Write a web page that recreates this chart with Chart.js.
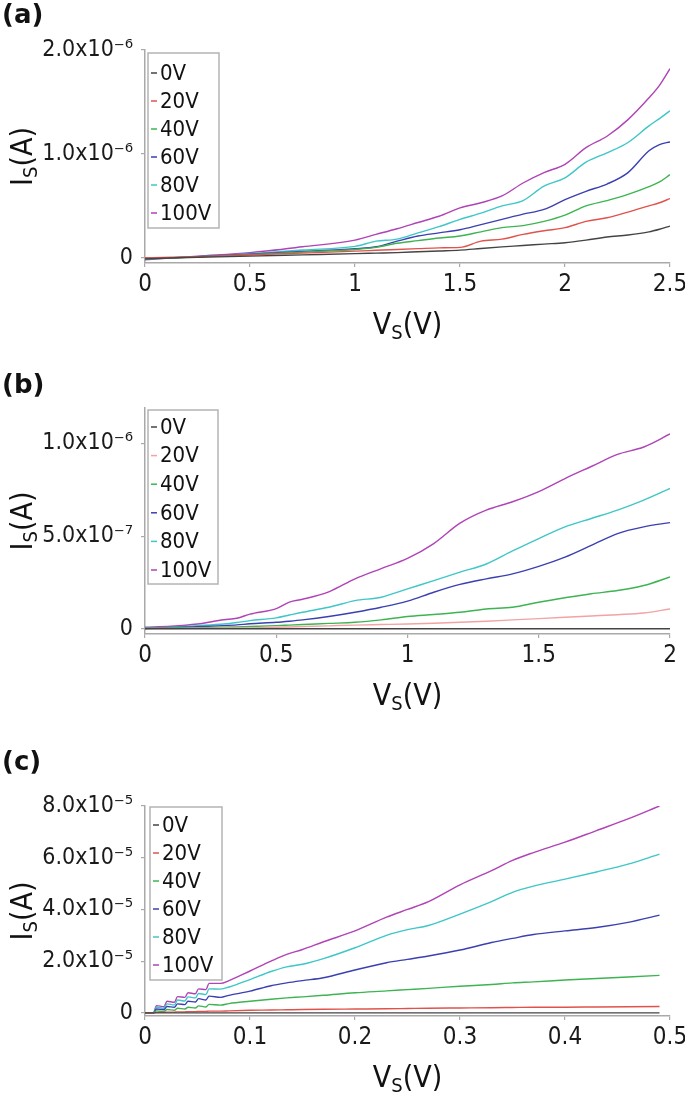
<!DOCTYPE html>
<html>
<head>
<meta charset="utf-8">
<script src="https://cdn.jsdelivr.net/npm/chart.js@4.4.1/dist/chart.umd.min.js"></script>
<style>
  html, body { margin: 0; padding: 0; background: #fff; }
  #wrap { position: relative; width: 685px; height: 1095px; }
  .panel { position: absolute; left: 0; width: 685px; height: 365px; }
</style>
</head>
<body>
<div id="wrap">
  <div class="panel" style="top:0"><canvas id="cA" width="685" height="365"></canvas></div>
  <div class="panel" style="top:365px"><canvas id="cB" width="685" height="365"></canvas></div>
  <div class="panel" style="top:730px"><canvas id="cC" width="685" height="365"></canvas></div>
</div>
<script>
// ── Series names (legend) ─────────────────────────────────────────
const SERIES = ['0V', '20V', '40V', '60V', '80V', '100V'];

// ── Panel (a): Is in units of 1e-6 A ──────────────────────────────
const A_VS   = [0, 0.25, 0.5, 0.75, 1.0, 1.1, 1.2, 1.3, 1.4, 1.5, 1.6, 1.7, 1.8, 1.9, 2.0, 2.1, 2.2, 2.3, 2.4, 2.45, 2.5];
const A_0V   = [-0.01, 0.005, 0.016, 0.028, 0.04, 0.045, 0.05, 0.058, 0.066, 0.074, 0.09, 0.105, 0.118, 0.132, 0.145, 0.17, 0.2, 0.22, 0.25, 0.275, 0.305];
const A_20V  = [0.0, 0.01, 0.03, 0.045, 0.064, 0.072, 0.08, 0.088, 0.096, 0.1, 0.16, 0.18, 0.225, 0.26, 0.29, 0.35, 0.385, 0.44, 0.5, 0.53, 0.57];
const A_40V  = [-0.01, 0.01, 0.03, 0.055, 0.08, 0.1, 0.14, 0.165, 0.19, 0.21, 0.25, 0.29, 0.31, 0.35, 0.41, 0.5, 0.55, 0.61, 0.685, 0.73, 0.8];
const A_60V  = [-0.01, 0.01, 0.035, 0.06, 0.087, 0.106, 0.16, 0.21, 0.24, 0.27, 0.32, 0.37, 0.42, 0.466, 0.56, 0.64, 0.71, 0.82, 1.03, 1.09, 1.115];
const A_80V  = [-0.01, 0.01, 0.04, 0.075, 0.11, 0.16, 0.18, 0.24, 0.3, 0.37, 0.43, 0.5, 0.55, 0.69, 0.77, 0.92, 1.01, 1.11, 1.27, 1.34, 1.415];
const A_100V = [-0.02, 0.016, 0.05, 0.106, 0.17, 0.225, 0.28, 0.34, 0.4, 0.48, 0.53, 0.595, 0.72, 0.82, 0.9, 1.06, 1.17, 1.33, 1.54, 1.66, 1.82];
const A_XTICKS = [0, 0.5, 1, 1.5, 2, 2.5];
const A_XLABELS = ['0', '0.5', '1', '1.5', '2', '2.5'];
const A_YTICKS = [0, 1, 2];
const A_YLABELS = ['0', '1.0x10\u207B\u2076', '2.0x10\u207B\u2076'];

// ── Panel (b): Is in units of 1e-6 A ──────────────────────────────
const B_VS   = [0, 0.1, 0.2, 0.3, 0.35, 0.4, 0.5, 0.55, 0.6, 0.7, 0.8, 0.9, 1.0, 1.1, 1.2, 1.3, 1.4, 1.5, 1.6, 1.7, 1.8, 1.9, 2.0];
const B_0V   = [0.001, 0.001, 0.001, 0.001, 0.001, 0.001, 0.001, 0.001, 0.001, 0.001, 0.001, 0.001, 0.001, 0.001, 0.001, 0.001, 0.001, 0.001, 0.001, 0.001, 0.001, 0.001, 0.001];
const B_20V  = [0.002, 0.003, 0.004, 0.005, 0.005, 0.006, 0.009, 0.011, 0.013, 0.017, 0.021, 0.024, 0.027, 0.031, 0.036, 0.042, 0.049, 0.056, 0.063, 0.07, 0.077, 0.086, 0.108];
const B_40V  = [0.003, 0.005, 0.007, 0.01, 0.011, 0.013, 0.018, 0.021, 0.024, 0.03, 0.036, 0.049, 0.067, 0.078, 0.09, 0.108, 0.117, 0.144, 0.168, 0.19, 0.207, 0.234, 0.28];
const B_60V  = [0.003, 0.008, 0.012, 0.018, 0.022, 0.028, 0.036, 0.042, 0.049, 0.067, 0.09, 0.117, 0.15, 0.198, 0.24, 0.27, 0.297, 0.337, 0.387, 0.45, 0.514, 0.55, 0.573];
const B_80V  = [0.005, 0.01, 0.018, 0.027, 0.035, 0.045, 0.06, 0.075, 0.09, 0.117, 0.153, 0.171, 0.216, 0.26, 0.306, 0.35, 0.42, 0.487, 0.55, 0.595, 0.64, 0.694, 0.757];
const B_100V = [0.01, 0.015, 0.027, 0.05, 0.058, 0.08, 0.11, 0.145, 0.16, 0.2, 0.27, 0.325, 0.38, 0.46, 0.57, 0.64, 0.685, 0.74, 0.81, 0.875, 0.94, 0.98, 1.05];
const B_XTICKS = [0, 0.5, 1, 1.5, 2];
const B_XLABELS = ['0', '0.5', '1', '1.5', '2'];
const B_YTICKS = [0, 0.5, 1];
const B_YLABELS = ['0', '5.0x10\u207B\u2077', '1.0x10\u207B\u2076'];

// ── Panel (c): Is in units of 1e-5 A ──────────────────────────────
const C_VS   = [0, 0.008, 0.011, 0.018, 0.021, 0.028, 0.031, 0.038, 0.041, 0.048, 0.051, 0.058, 0.061, 0.072, 0.08, 0.1, 0.12, 0.135, 0.15, 0.17, 0.2, 0.23, 0.25, 0.27, 0.3, 0.33, 0.35, 0.37, 0.4, 0.43, 0.46, 0.49];
const C_0V   = [0, 0, 0, 0, 0, 0, 0, 0, 0, 0, 0, 0, 0, 0, 0, 0, 0, 0, 0, 0, 0, 0, 0, 0, 0, 0, 0, 0, 0, 0, 0, 0];
const C_20V  = [0, 0, 0.02, 0.02, 0.03, 0.03, 0.04, 0.04, 0.05, 0.05, 0.06, 0.06, 0.07, 0.07, 0.08, 0.1, 0.11, 0.12, 0.13, 0.14, 0.15, 0.16, 0.17, 0.18, 0.19, 0.2, 0.21, 0.22, 0.22, 0.23, 0.24, 0.25];
const C_40V  = [0, 0, 0.08, 0.05, 0.13, 0.1, 0.18, 0.15, 0.22, 0.19, 0.27, 0.23, 0.33, 0.3, 0.36, 0.45, 0.53, 0.58, 0.62, 0.68, 0.78, 0.85, 0.9, 0.95, 1.03, 1.1, 1.16, 1.2, 1.27, 1.33, 1.39, 1.45];
const C_60V  = [0, 0, 0.15, 0.12, 0.25, 0.22, 0.35, 0.32, 0.45, 0.42, 0.55, 0.5, 0.65, 0.6, 0.68, 0.84, 1.05, 1.16, 1.25, 1.36, 1.66, 1.94, 2.07, 2.2, 2.43, 2.72, 2.88, 3.03, 3.17, 3.3, 3.5, 3.78];
const C_80V  = [0, 0, 0.22, 0.18, 0.35, 0.31, 0.5, 0.46, 0.62, 0.58, 0.75, 0.71, 0.93, 0.92, 1.0, 1.29, 1.6, 1.78, 1.88, 2.1, 2.52, 3.0, 3.22, 3.38, 3.82, 4.3, 4.66, 4.9, 5.17, 5.45, 5.75, 6.14];
const C_100V = [0, 0, 0.28, 0.24, 0.45, 0.41, 0.63, 0.6, 0.78, 0.74, 0.93, 0.9, 1.14, 1.14, 1.25, 1.62, 2.0, 2.26, 2.45, 2.75, 3.17, 3.7, 4.0, 4.3, 4.95, 5.5, 5.9, 6.2, 6.6, 7.05, 7.5, 8.0];
const C_XTICKS = [0, 0.1, 0.2, 0.3, 0.4, 0.5];
const C_XLABELS = ['0', '0.1', '0.2', '0.3', '0.4', '0.5'];
const C_YTICKS = [0, 2, 4, 6, 8];
const C_YLABELS = ['0', '2.0x10\u207B\u2075', '4.0x10\u207B\u2075', '6.0x10\u207B\u2075', '8.0x10\u207B\u2075'];

// ── Styles ────────────────────────────────────────────────────────
const FONT = "'DejaVu Sans Condensed', 'DejaVu Sans', sans-serif";
const AXIS_GREY = '#a9a9a9';
const COLORS_A = ['#444444', '#e0534c', '#3db451', '#3b40b0', '#3fc6c6', '#b043b6'];
const COLORS_B = ['#444444', '#f2a3a3', '#3db451', '#3b40b0', '#3fc6c6', '#b043b6'];
const COLORS_C = ['#444444', '#e0534c', '#3db451', '#3b40b0', '#3fc6c6', '#b043b6'];

// Axis title with subscript, centred on (cx, cy)
function drawSubTitle(ctx, main, sub, rest, cx, cy) {
  const big = '30px ' + FONT, small = '20px ' + FONT;
  ctx.font = big;
  const w1 = ctx.measureText(main).width, w3 = ctx.measureText(rest).width;
  ctx.font = small;
  const w2 = ctx.measureText(sub).width;
  let x = cx - (w1 + w2 + w3) / 2;
  const base = cy + 11;
  ctx.textAlign = 'left';
  ctx.textBaseline = 'alphabetic';
  ctx.font = big;   ctx.fillText(main, x, base); x += w1;
  ctx.font = small; ctx.fillText(sub, x, base + 5); x += w2;
  ctx.font = big;   ctx.fillText(rest, x, base);
}

// Panel letter, axis titles and framed legend
const panelText = {
  id: 'panelText',
  afterDraw(chart, args, o) {
    const ctx = chart.ctx, a = chart.chartArea;
    ctx.save();
    ctx.fillStyle = '#111';
    ctx.font = 'bold 26px ' + "'DejaVu Sans', sans-serif";
    ctx.textAlign = 'left';
    ctx.textBaseline = 'middle';
    ctx.fillText(o.letter, 2, o.letterY);

    drawSubTitle(ctx, 'V', 'S', '(V)', (a.left + a.right) / 2, a.bottom + 60);

    ctx.save();
    ctx.translate(21, (a.top + a.bottom) / 2);
    ctx.rotate(-Math.PI / 2);
    drawSubTitle(ctx, 'I', 'S', '(A)', 0, 0);
    ctx.restore();

    // legend
    const L = o.legend;
    ctx.fillStyle = '#fff';
    ctx.fillRect(L.x, L.y, L.w, L.h);
    ctx.strokeStyle = '#b4b4b4';
    ctx.lineWidth = 1.5;
    ctx.strokeRect(L.x, L.y, L.w, L.h);
    ctx.font = '22px ' + FONT;
    ctx.textBaseline = 'middle';
    chart.data.datasets.forEach((ds, i) => {
      const y = L.first + i * L.step;
      ctx.strokeStyle = ds.borderColor;
      ctx.lineWidth = 1.5;
      ctx.beginPath();
      ctx.moveTo(L.x + 3, y);
      ctx.lineTo(L.x + 9, y);
      ctx.stroke();
      ctx.fillStyle = '#111';
      ctx.fillText(ds.label, L.x + 12, y + 1);
    });
    ctx.restore();
  }
};

function makePanel(id, p) {
  const H = 365;
  const datasets = p.series.map((ys, i) => ({
    label: SERIES[i],
    data: p.vs.map((v, k) => ({ x: v, y: ys[k] })),
    borderColor: p.colors[i],
    backgroundColor: p.colors[i],
    borderWidth: 1.4,
    pointRadius: 0,
    fill: false,
    cubicInterpolationMode: 'monotone',
  }));
  return new Chart(document.getElementById(id), {
    type: 'line',
    data: { datasets },
    options: {
      responsive: false,
      animation: false,
      devicePixelRatio: 1,
      layout: { padding: { left: 0, right: 15, top: p.top, bottom: 0 } },
      plugins: {
        legend: { display: false },
        tooltip: { enabled: false },
        panelText: { letter: p.letter, letterY: p.letterY, legend: p.legend },
      },
      scales: {
        x: {
          type: 'linear',
          min: p.xMin, max: p.xMax,
          afterBuildTicks: s => { s.ticks = p.xTicks.map(v => ({ value: v })); },
          afterFit: s => { s.height = H - p.bottom; s.paddingLeft = 0; s.paddingRight = 0; },
          ticks: {
            autoSkip: false, maxRotation: 0, padding: 3, color: '#1a1a1a',
            font: { family: FONT, size: 24 },
            callback: (v, i) => p.xLabels[i],
          },
          grid: { drawOnChartArea: false, drawTicks: true, tickLength: 4, color: AXIS_GREY, lineWidth: 1.2 },
          border: { display: true, color: AXIS_GREY, width: 1.5 },
        },
        y: {
          type: 'linear',
          min: p.yMin, max: p.yMax,
          afterBuildTicks: s => { s.ticks = p.yTicks.map(v => ({ value: v })); },
          afterFit: s => { s.width = 145; s.paddingTop = 0; s.paddingBottom = 0; },
          ticks: {
            autoSkip: false, padding: 8, color: '#1a1a1a',
            font: { family: FONT, size: 23 },
            callback: (v, i) => p.yLabels[i],
          },
          grid: { drawOnChartArea: false, drawTicks: true, tickLength: 4, color: AXIS_GREY, lineWidth: 1.2 },
          border: { display: true, color: AXIS_GREY, width: 1.5 },
        },
      },
    },
    plugins: [panelText],
  });
}

makePanel('cA', {
  letter: '(a)', letterY: 16, top: 50, bottom: 263,
  vs: A_VS, series: [A_0V, A_20V, A_40V, A_60V, A_80V, A_100V], colors: COLORS_A,
  xMin: 0, xMax: 2.5, xTicks: A_XTICKS, xLabels: A_XLABELS,
  yMin: -0.05, yMax: 2.0, yTicks: A_YTICKS, yLabels: A_YLABELS,
  legend: { x: 148, y: 53, w: 71, h: 175, first: 73, step: 28 },
});
makePanel('cB', {
  letter: '(b)', letterY: 21, top: 43, bottom: 269,
  vs: B_VS, series: [B_0V, B_20V, B_40V, B_60V, B_80V, B_100V], colors: COLORS_B,
  xMin: 0, xMax: 2, xTicks: B_XTICKS, xLabels: B_XLABELS,
  yMin: -0.027, yMax: 1.19, yTicks: B_YTICKS, yLabels: B_YLABELS,
  legend: { x: 148, y: 45, w: 70, h: 174, first: 62, step: 28.6 },
});
makePanel('cC', {
  letter: '(c)', letterY: 33, top: 76, bottom: 286,
  vs: C_VS, series: [C_0V, C_20V, C_40V, C_60V, C_80V, C_100V], colors: COLORS_C,
  xMin: 0, xMax: 0.5, xTicks: C_XTICKS, xLabels: C_XLABELS,
  yMin: -0.12, yMax: 8.0, yTicks: C_YTICKS, yLabels: C_YLABELS,
  legend: { x: 150, y: 77, w: 72, h: 173, first: 95, step: 28 },
});
</script>
</body>
</html>
